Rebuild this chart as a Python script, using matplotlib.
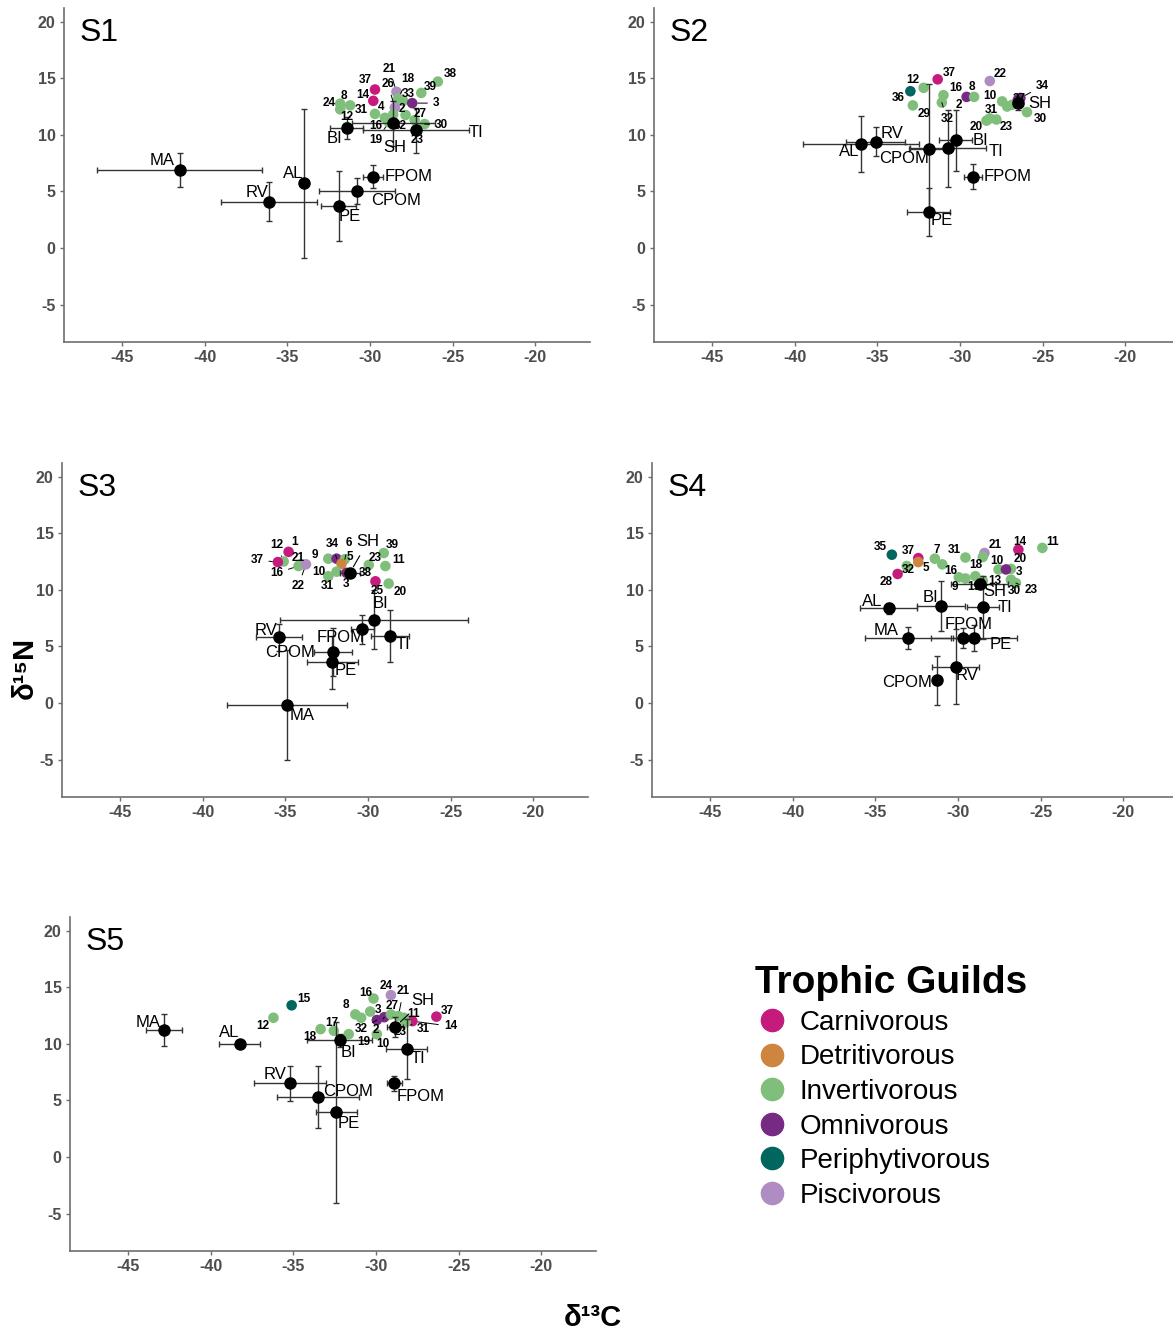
import matplotlib
matplotlib.use("Agg")
import matplotlib.pyplot as plt
from matplotlib.lines import Line2D

plt.rcParams['font.family'] = ['Liberation Sans', 'DejaVu Sans']
plt.rcParams['axes.unicode_minus'] = False

guild_names = ["Carnivorous", "Detritivorous", "Invertivorous", "Omnivorous",
               "Periphytivorous", "Piscivorous"]
guild_colors = ["#C51B7D", "#CD853F", "#7FBF7B", "#762A83", "#01665E", "#AF8DC3"]
guild_code = {"C": 0, "D": 1, "I": 2, "O": 3, "Pe": 4, "Pi": 5}

# ---- S1 ----
s1_src = ["MA", "AL", "RV", "PE", "CPOM", "FPOM", "BI", "SH", "TI"]
s1_src_x = [-41.5, -34.0, -36.1, -31.9, -30.8, -29.8, -31.4, -28.6, -27.2]
s1_src_y = [6.9, 5.7, 4.1, 3.7, 5.0, 6.3, 10.6, 11.0, 10.4]
s1_src_xerr = [5.0, 0.0, 2.9, 1.05, 2.3, 0.6, 1.0, 2.5, 3.2]
s1_src_yerr = [1.5, 6.6, 1.7, 3.1, 1.15, 1.0, 0.95, 2.0, 2.0]
s1_con = ["37", "14", "21", "18", "26", "33", "3", "39", "38", "8", "24", "31",
          "4", "16", "19", "32", "2", "27", "30", "12", "23"]
s1_guild = ["C", "C", "Pi", "I", "Pi", "I", "O", "I", "I", "I", "I", "I",
            "I", "I", "I", "I", "I", "I", "I", "I", "I"]
s1_con_x = [-29.7, -29.8, -28.4, -28.3, -28.5, -28.0, -27.45, -26.9, -25.9, -31.8, -31.8, -31.2,
            -29.7, -29.1, -28.85, -28.6, -27.85, -27.3, -26.7, -31.4, -27.15]
s1_con_y = [14.0, 13.0, 13.8, 13.2, 12.4, 13.0, 12.8, 13.7, 14.7, 12.75, 12.25, 12.6,
            11.85, 11.5, 11.1, 11.8, 11.75, 11.3, 10.95, 10.7, 10.5]

# ---- S2 ----
s2_src = ["AL", "RV", "CPOM", "PE", "TI", "BI", "FPOM", "SH"]
s2_src_x = [-36.0, -35.1, -31.9, -31.9, -30.7, -30.25, -29.2, -26.5]
s2_src_y = [9.2, 9.4, 8.75, 3.2, 8.8, 9.5, 6.3, 12.8]
s2_src_xerr = [3.5, 1.8, 1.2, 1.3, 2.3, 1.0, 0.55, 0.3]
s2_src_yerr = [2.5, 1.3, 5.7, 2.1, 3.4, 2.7, 1.1, 0.6]
s2_con = ["12", "36", "29", "37", "16", "32", "8", "2", "22", "10", "", "",
          "34", "27", "30", "20", "31", "23"]
s2_guild = ["I", "Pe", "I", "C", "I", "I", "O", "I", "Pi", "I", "I", "I",
            "O", "O", "I", "I", "I", "I"]
s2_con_x = [-32.2, -33.0, -32.85, -31.35, -31.0, -31.1, -29.6, -29.15, -28.2, -27.45, -27.15, -26.85,
            -26.35, -26.5, -25.95, -28.4, -28.2, -27.8]
s2_con_y = [14.15, 13.85, 12.6, 14.9, 13.5, 12.85, 13.35, 13.35, 14.75, 12.95, 12.5, 12.65,
            13.25, 13.1, 12.0, 11.25, 11.45, 11.35]

# ---- S3 ----
s3_src = ["RV", "MA", "CPOM", "PE", "FPOM", "BI", "TI", "SH"]
s3_src_x = [-35.4, -34.9, -32.1, -32.15, -30.35, -29.65, -28.65, -31.1]
s3_src_y = [5.8, -0.2, 4.5, 3.6, 6.5, 7.35, 5.9, 11.5]
s3_src_xerr = [1.4, 3.65, 1.15, 1.55, 0.7, 5.7, 1.15, 0.6]
s3_src_yerr = [1.2, 4.85, 2.1, 2.35, 1.25, 2.6, 2.3, 0.3]
s3_con = ["1", "12", "37", "16", "21", "22", "9", "34", "6", "5", "10", "31",
          "3", "38", "23", "39", "11", "25", "20"]
s3_guild = ["C", "I", "C", "I", "I", "Pi", "I", "O", "I", "D", "I", "I",
            "O", "I", "I", "I", "I", "C", "I"]
s3_con_x = [-34.8, -35.1, -35.45, -34.2, -34.05, -33.75, -32.4, -31.9, -31.4, -31.6, -31.9, -32.4,
            -31.3, -31.0, -29.95, -29.05, -28.95, -29.55, -28.75]
s3_con_y = [13.35, 12.5, 12.45, 12.1, 12.25, 12.25, 12.75, 12.75, 12.7, 12.3, 11.6, 11.2,
            11.5, 11.45, 12.2, 13.25, 12.1, 10.75, 10.55]

# ---- S4 ----
s4_src = ["AL", "BI", "TI", "SH", "MA", "FPOM", "PE", "RV", "CPOM"]
s4_src_x = [-34.2, -31.0, -28.5, -28.7, -33.0, -29.7, -29.05, -30.15, -31.3]
s4_src_y = [8.35, 8.6, 8.45, 10.55, 5.75, 5.75, 5.75, 3.2, 2.0]
s4_src_xerr = [1.7, 1.45, 0.95, 1.7, 2.6, 0.6, 2.6, 1.4, 0.0]
s4_src_yerr = [0.45, 2.2, 2.8, 0.4, 1.0, 0.9, 1.15, 3.3, 2.15]
s4_con = ["35", "37", "5", "32", "28", "7", "16", "31", "21", "", "14", "11",
          "10", "20", "3", "18", "9", "19", "13", "30", "23"]
s4_guild = ["Pe", "C", "D", "I", "C", "I", "I", "I", "Pi", "I", "C", "I",
            "I", "I", "O", "I", "I", "I", "I", "I", "I"]
s4_con_x = [-34.0, -32.4, -32.4, -33.1, -33.65, -31.4, -30.95, -29.55, -28.4, -28.5, -26.35, -24.9,
            -27.55, -26.8, -27.1, -28.95, -29.95, -29.55, -28.5, -26.8, -26.5]
s4_con_y = [13.1, 12.8, 12.45, 12.1, 11.4, 12.75, 12.25, 12.85, 13.25, 12.9, 13.55, 13.7,
            11.8, 11.85, 11.8, 11.2, 11.1, 11.0, 10.8, 10.9, 10.6]

# ---- S5 ----
s5_src = ["MA", "AL", "RV", "CPOM", "PE", "BI", "TI", "FPOM", "SH"]
s5_src_x = [-42.8, -38.25, -35.2, -33.5, -32.4, -32.2, -28.15, -28.9, -28.85]
s5_src_y = [11.2, 10.0, 6.5, 5.3, 3.95, 10.3, 9.5, 6.5, 11.5]
s5_src_xerr = [1.1, 1.25, 2.15, 2.5, 1.25, 1.95, 1.25, 0.45, 0.5]
s5_src_yerr = [1.4, 0.0, 1.55, 2.75, 8.0, 0.6, 2.65, 0.65, 0.9]
s5_con = ["15", "12", "8", "", "16", "24", "3", "32", "2", "27", "21", "11",
          "14", "37", "31", "23", "17", "18", "19", "10"]
s5_guild = ["Pe", "I", "I", "I", "I", "Pi", "I", "O", "O", "I", "I", "I",
            "C", "C", "I", "I", "I", "I", "I", "I"]
s5_con_x = [-35.1, -36.2, -31.25, -30.9, -30.15, -29.1, -30.35, -29.95, -29.5, -29.1, -28.65, -28.3,
            -27.8, -26.35, -28.2, -28.9, -32.55, -33.35, -31.65, -29.95]
s5_con_y = [13.4, 12.3, 12.6, 12.3, 14.0, 14.3, 12.85, 12.1, 12.35, 12.6, 12.45, 12.3,
            12.0, 12.4, 11.9, 11.4, 11.15, 11.3, 10.85, 10.85]

# label offsets in pixels (dx, dy, draw segment)
src_off = {
    "S1": [(-18, 9, 0), (-11, 10, 0), (-12, 9, 0), (11, -10, 0), (39, -9, 0), (35, 0, 0),
           (-12, -10, 0), (2, -24, 0), (60, -2, 0)],
    "S2": [(-12, -8, 0), (16, 8, 0), (-25, -10, 0), (13, -9, 0), (48, -3, 0), (25, 0, 0),
           (34, 0, 0), (22, 0, 0)],
    "S3": [(-13, 7, 0), (15, -10, 0), (-43, 0, 0), (13, -8, 0), (-22, -8, 0), (7, 16, 0),
           (13, -8, 0), (18, 31, 1)],
    "S4": [(-16, 7, 0), (-11, 8, 0), (22, 0, 0), (15, -8, 0), (-22, 7, 0), (6, 13, 0),
           (27, -7, 0), (12, -9, 0), (-29, -2, 0)],
    "S5": [(-16, 8, 0), (-10, 11, 0), (-15, 9, 0), (30, 6, 0), (12, -11, 0), (9, -12, 0),
           (11, -9, 0), (26, -13, 0), (28, 26, 1)],
}
con_off = {
    "S1": [(-10, 10, 0), (-11, 6, 0), (-7, 23, 1), (10, 20, 1), (-7, 24, 1), (5, 7, 0),
           (24, 0, 1), (9, 6, 0), (12, 8, 0), (4, 8, 0), (-11, 6, 0), (11, -5, 0),
           (6, 7, 0), (-9, -8, 0), (-13, -18, 1), (7, -12, 0), (-4, 6, 0), (5, 6, 0),
           (17, -1, 1), (0, 10, 0), (0, -11, 0)],
    "S2": [(-11, 8, 0), (-12, -7, 0), (11, -9, 0), (12, 6, 0), (12, 7, 0), (5, -16, 1),
           (5, 10, 0), (-15, -8, 0), (10, 7, 0), (-12, 5, 0), (0, 0, 0), (0, 0, 0),
           (22, 12, 1), (1, 1, 0), (13, -7, 0), (-10, -6, 0), (2, 8, 0), (10, -7, 0)],
    "S3": [(6, 10, 0), (-7, 17, 1), (-21, 2, 1), (-22, -7, 1), (-3, 6, 0), (-8, -22, 1),
           (-13, 4, 0), (-4, 15, 1), (4, 16, 1), (8, 7, 0), (-18, 0, 0), (-1, -10, 0),
           (0, -11, 0), (14, 0, 0), (6, 7, 0), (9, 8, 0), (13, 6, 0), (2, -10, 0), (12, -8, 0)],
    "S4": [(-12, 8, 0), (-10, 7, 0), (8, -6, 0), (2, -4, 0), (-12, -8, 0), (2, 9, 0),
           (8, -7, 0), (-11, 8, 0), (11, 8, 0), (0, 0, 0), (1, 8, 0), (10, 6, 0),
           (-2, 8, 0), (9, 10, 0), (13, -3, 0), (0, 11, 0), (-4, -10, 0), (8, -9, 0),
           (12, 0, 0), (3, -11, 0), (15, -7, 1)],
    "S5": [(12, 6, 0), (-11, -8, 0), (-9, 9, 0), (0, 0, 0), (-8, 6, 0), (-5, 9, 0),
           (8, 2, 0), (-16, -9, 1), (-8, -13, 1), (1, 8, 0), (5, 25, 1), (9, 4, 0),
           (38, -5, 1), (11, 6, 0), (18, -7, 1), (6, -4, 0), (-2, 8, 0), (-11, -8, 0),
           (15, -8, 0), (6, -10, 0)],
}

panels = [
    ("S1", 64, 8, s1_src, s1_src_x, s1_src_y, s1_src_xerr, s1_src_yerr, s1_con, s1_guild, s1_con_x, s1_con_y),
    ("S2", 654, 8, s2_src, s2_src_x, s2_src_y, s2_src_xerr, s2_src_yerr, s2_con, s2_guild, s2_con_x, s2_con_y),
    ("S3", 62, 463, s3_src, s3_src_x, s3_src_y, s3_src_xerr, s3_src_yerr, s3_con, s3_guild, s3_con_x, s3_con_y),
    ("S4", 652, 463, s4_src, s4_src_x, s4_src_y, s4_src_xerr, s4_src_yerr, s4_con, s4_guild, s4_con_x, s4_con_y),
    ("S5", 70, 917, s5_src, s5_src_x, s5_src_y, s5_src_xerr, s5_src_yerr, s5_con, s5_guild, s5_con_x, s5_con_y),
]

W, H = 1173, 1333
fig = plt.figure(figsize=(W / 100, H / 100), dpi=100)

axis_col = "#6e6e6e"
for (name, left, top, src, sx, sy, sxe, sye, con, guild, cx, cy) in panels:
    ax = fig.add_axes([left / W, 1 - (top + 334) / H, 526 / W, 334 / H])
    ax.set_xlim(-48.5, -16.7)
    ax.set_ylim(-8.3, 21.2)
    for side in ["top", "right"]:
        ax.spines[side].set_visible(False)
    for side in ["left", "bottom"]:
        ax.spines[side].set_color(axis_col)
        ax.spines[side].set_linewidth(1.2)
    ax.set_xticks([-45, -40, -35, -30, -25, -20])
    ax.set_yticks([-5, 0, 5, 10, 15, 20])
    ax.tick_params(colors=axis_col, length=3, width=1, labelsize=11.5, pad=3)
    for lab in ax.get_xticklabels() + ax.get_yticklabels():
        lab.set_fontweight("bold")
        lab.set_color("#4d4d4d")

    cols = [guild_colors[guild_code[g]] for g in guild]
    ax.scatter(cx, cy, s=58, c=cols, edgecolors="none", zorder=2)

    ax.errorbar(sx, sy, xerr=sxe, yerr=sye, fmt="o", color="black", ms=8,
                ecolor="#333333", elinewidth=1, capsize=2, capthick=1, zorder=3)

    for i, lab in enumerate(src):
        dx, dy, seg = src_off[name][i]
        ax.annotate(lab, xy=(sx[i], sy[i]), xytext=(dx, dy), textcoords="offset pixels",
                    ha="center", va="center", fontsize=12, zorder=5,
                    arrowprops=dict(arrowstyle="-", lw=0.8, color="black",
                                    shrinkA=3, shrinkB=5) if seg else None)
    for i, lab in enumerate(con):
        if not lab:
            continue
        dx, dy, seg = con_off[name][i]
        ax.annotate(lab, xy=(cx[i], cy[i]), xytext=(dx, dy), textcoords="offset pixels",
                    ha="center", va="center", fontsize=8.5, fontweight="bold", zorder=5,
                    arrowprops=dict(arrowstyle="-", lw=0.7, color="black",
                                    shrinkA=2, shrinkB=4) if seg else None)

    ax.text(0.03, 0.97, name, transform=ax.transAxes, ha="left", va="top", fontsize=23)

fig.text(25 / W, 1 - 668 / H, "δ¹⁵N", rotation=90, fontsize=21, fontweight="bold",
         ha="center", va="center")
fig.text(593 / W, 1 - 1318 / H, "δ¹³C", fontsize=21, fontweight="bold",
         ha="center", va="center")

handles = [Line2D([], [], marker="o", ls="", ms=16, color=c) for c in guild_colors]
fig.legend(handles, guild_names, loc="upper left", bbox_to_anchor=(744 / W, 1 - 954 / H),
           frameon=False, title="Trophic Guilds", alignment="left",
           title_fontproperties={"weight": "bold", "size": 28}, fontsize=20,
           handletextpad=0.4, labelspacing=0.31, borderaxespad=0, handlelength=1.2)

fig.savefig("out.png", dpi=100)
